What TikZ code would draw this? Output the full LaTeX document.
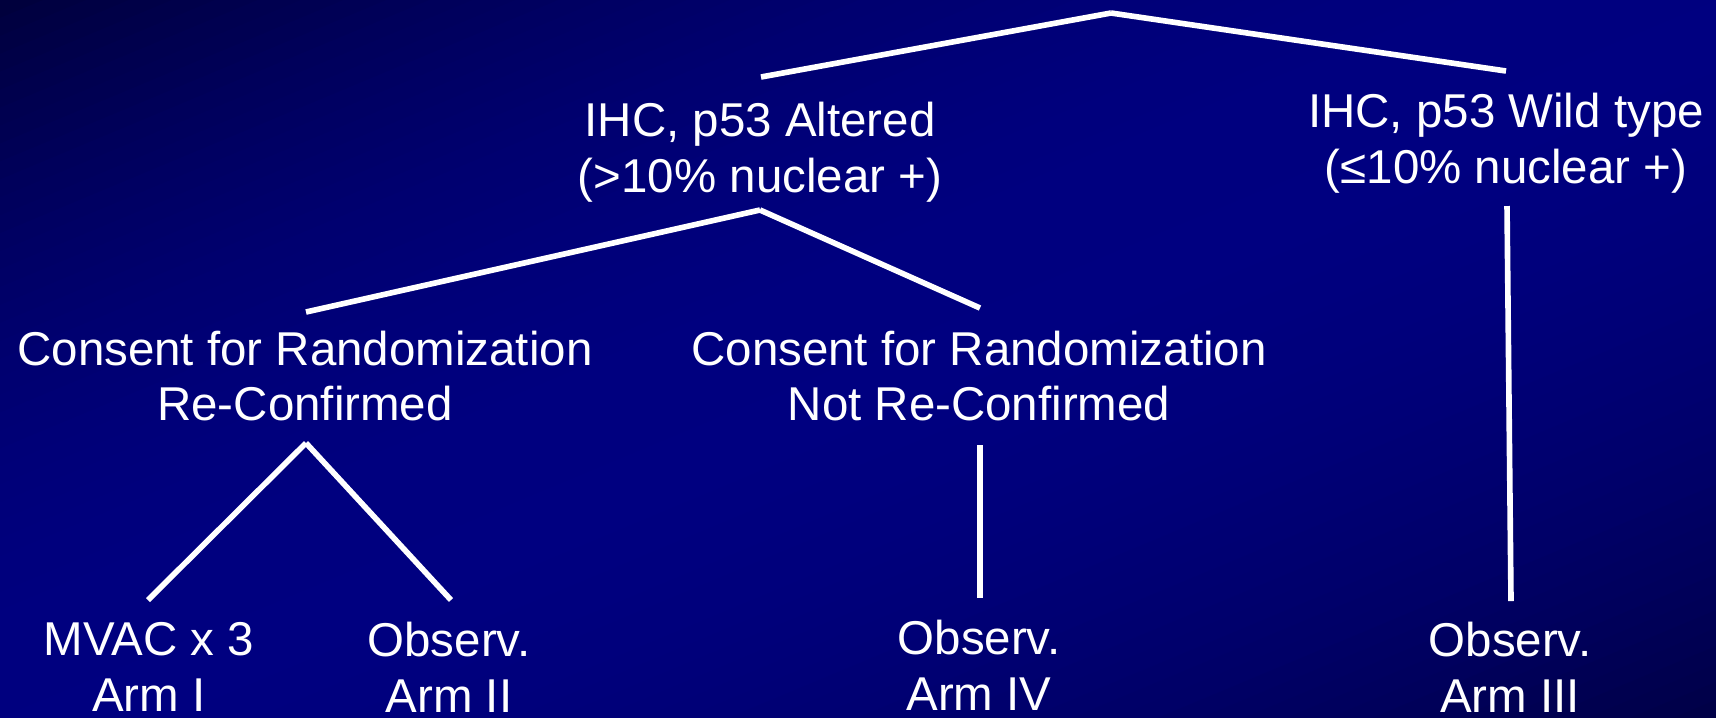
\documentclass[tikz,border=0pt]{standalone}
\usepackage{fontspec}
\setmainfont{Liberation Sans}
\definecolor{navy}{HTML}{000080}
\definecolor{tlnavy}{HTML}{00003C}
\definecolor{brnavy}{HTML}{000046}

\begin{document}
\begin{tikzpicture}[x=0.01cm,y=-0.01cm,
  lbl/.style={text=white,align=center,inner sep=0pt,font=\fontsize{13.5}{15.9}\selectfont},
  branch/.style={draw=white,line width=1.6pt}]
\useasboundingbox (0,0) rectangle (1716,717);
% background, corner to corner
\begin{scope}[x=17.16cm,y=-7.17cm]
\clip (0,0) rectangle (1,1);
\foreach \i in {0,...,79}{
  \pgfmathsetmacro\ca{\i/40}
  \pgfmathsetmacro\cb{(\i+1.3)/40}
  \pgfmathtruncatemacro\p{100*(1-((\i+0.5)/40-1)^2)}
  \ifnum\i<40 \colorlet{band}{navy!\p!tlnavy}\else\colorlet{band}{navy!\p!brnavy}\fi
  \fill[band] (\ca+2,-2) -- (\cb+2,-2) -- (\cb-2,2) -- (\ca-2,2) -- cycle;
}
\end{scope}
% labels
\node[lbl] (alt) at (760,152) {IHC, p53 Altered\\(>10\% nuclear +)};
\node[lbl] (wild) at (1506,143) {IHC, p53 Wild type\\(≤10\% nuclear +)};
\node[lbl] (conf) at (305,376) {Consent for Randomization\\Re-Confirmed};
\node[lbl] (noconf) at (979,376) {Consent for Randomization\\Not Re-Confirmed};
\node[lbl] (arm1) at (149,667) {MVAC x 3\\Arm I};
\node[lbl] (arm2) at (449,667) {Observ.\\Arm II};
\node[lbl] (arm4) at (979,665) {Observ.\\Arm IV};
\node[lbl] (arm3) at (1510,667) {Observ.\\Arm III};
% branch ends
\coordinate (root) at (1111,13);
\coordinate (altup) at (761,77);
\coordinate (wildup) at (1506,71);
\coordinate (altdn) at (760,210);
\coordinate (confup) at (306,312);
\coordinate (noconfup) at (980,308);
\coordinate (confdn) at (306,443);
\coordinate (arm1up) at (148,600);
\coordinate (arm2up) at (451,600);
\coordinate (noconfdn) at (980,445);
\coordinate (arm4up) at (980,598);
\coordinate (wilddn) at (1507,206);
\coordinate (arm3up) at (1511,601);
% tree
\draw[branch] (root) -- (altup);
\draw[branch] (root) -- (wildup);
\draw[branch] (altdn) -- (confup);
\draw[branch] (altdn) -- (noconfup);
\draw[branch] (confdn) -- (arm1up);
\draw[branch] (confdn) -- (arm2up);
\draw[branch] (noconfdn) -- (arm4up);
\draw[branch] (wilddn) -- (arm3up);
\end{tikzpicture}
\end{document}
